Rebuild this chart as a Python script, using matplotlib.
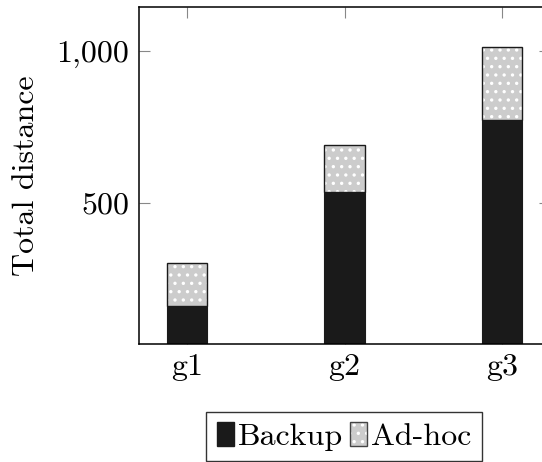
"""Stacked bars: total distance per group, Backup vs Ad-hoc."""
import matplotlib
matplotlib.use("Agg")
import matplotlib.pyplot as plt
import numpy as np

groups = ["g1", "g2", "g3"]
backup = [162, 537, 773]
adhoc = [142, 155, 242]
yticks = [500, 1000]
ytick_labels = ["500", "1,000"]

plt.rcParams["font.family"] = "cmr10"
plt.rcParams["axes.formatter.use_mathtext"] = True
plt.rcParams["hatch.linewidth"] = 1.2
FS = 23

fig = plt.figure(figsize=(5.42, 4.62), dpi=100)
ax = fig.add_axes([139 / 542, 1 - 344 / 462, 411 / 542, (344 - 7.3) / 462])

x = np.arange(len(groups))
w = 0.258
bottoms = np.array(backup)

ax.bar(x, backup, w, color="#1a1a1a", edgecolor="#1a1a1a", linewidth=0.8, zorder=2)
# dotted fill for Ad-hoc, then a dark outline on top
ax.bar(x, adhoc, w, bottom=bottoms, color="#cccccc", edgecolor="white",
       hatch="..", linewidth=0, zorder=2)
ax.bar(x, adhoc, w, bottom=bottoms, fill=False, edgecolor="#1a1a1a",
       linewidth=1.0, zorder=3)

ax.set_xlim(-0.305, 2.305)
ax.set_ylim(36, 1144)
ax.set_xticks(x)
ax.set_xticklabels(groups, fontsize=FS)
ax.set_yticks(yticks)
ax.set_yticklabels(ytick_labels, fontsize=FS)
ax.tick_params(direction="in", length=8, width=0.8, color="#888888",
               top=True, right=True, pad=7)
for s in ax.spines.values():
    s.set_linewidth(1.1)
    s.set_color("black")

ax.set_ylabel("Total distance", fontsize=FS, labelpad=12)

# legend proxies
h1 = plt.Rectangle((0, 0), 1, 1, facecolor="#1a1a1a", edgecolor="#1a1a1a")
h2_fill = plt.Rectangle((0, 0), 1, 1, facecolor="#cccccc", edgecolor="white",
                        hatch="..", linewidth=0)
h2_edge = plt.Rectangle((0, 0), 1, 1, fill=False, edgecolor="#444444",
                        linewidth=1.0)
leg = fig.legend([h1, (h2_fill, h2_edge)], ["Backup", "Ad-hoc"], ncol=2,
                 fontsize=FS, loc="upper center",
                 bbox_to_anchor=(344 / 542, 1 - 412 / 462),
                 frameon=True, fancybox=False, edgecolor="black",
                 handlelength=0.55, handleheight=0.75, handletextpad=0.12,
                 columnspacing=0.2, borderpad=0.32, borderaxespad=0)
leg.get_frame().set_linewidth(1.0)

fig.savefig("out.png", dpi=100)
